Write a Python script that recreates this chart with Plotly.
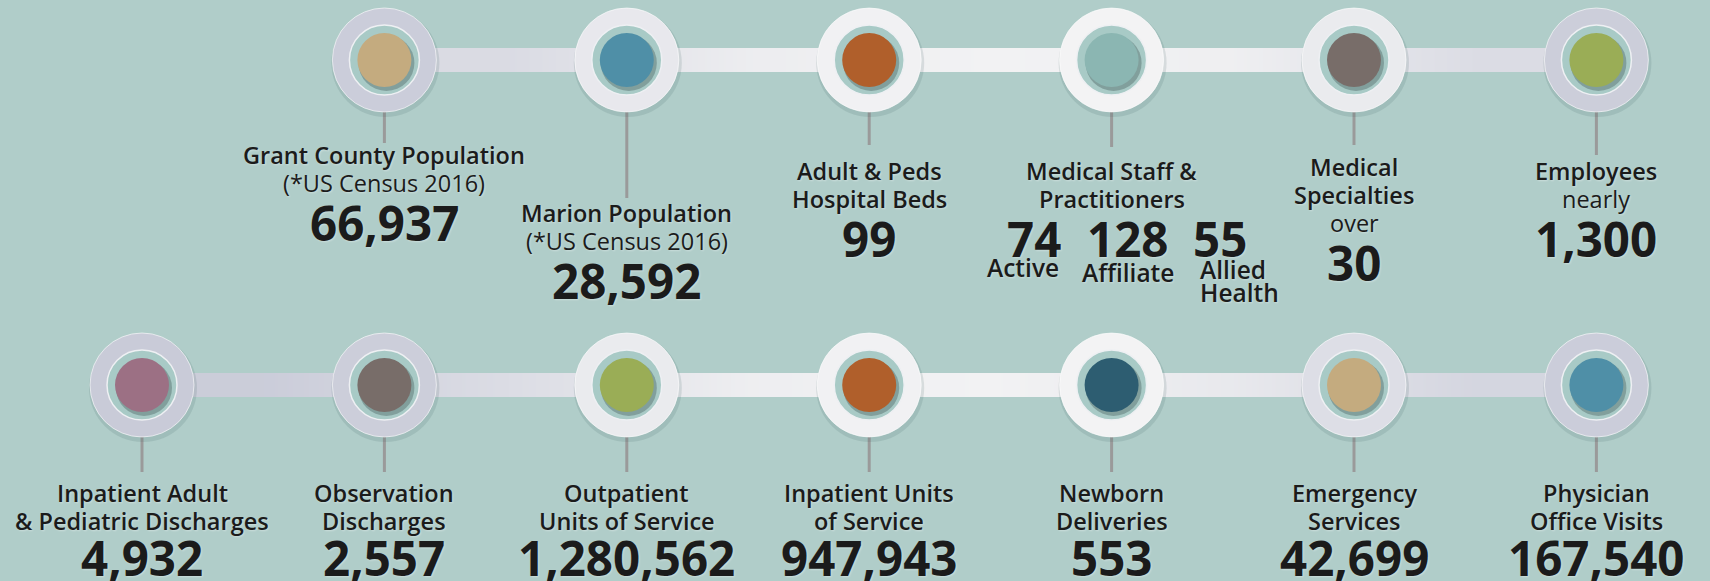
import plotly.graph_objects as go
from plotly.colors import sample_colorscale

# ---------------- data ----------------
top_slots = [1, 2, 3, 4, 5, 6]
top_titles = [["Grant County Population"], ["Marion Population"], ["Adult & Peds", "Hospital Beds"],
              ["Medical Staff &", "Practitioners"], ["Medical", "Specialties"], ["Employees"]]
top_notes = ["(*US Census 2016)", "(*US Census 2016)", "", "", "over", "nearly"]
top_values = ["66,937", "28,592", "99", "", "30", "1,300"]
top_dot_colors = ["#c4ab7f", "#4f8fa7", "#b05f2b", "#8bb6b2", "#786d69", "#9aad56"]

staff_values = ["74", "128", "55"]
staff_labels = ["Active", "Affiliate", "Allied", "Health"]

bottom_slots = [0, 1, 2, 3, 4, 5, 6]
bottom_titles = [["Inpatient Adult", "& Pediatric Discharges"], ["Observation", "Discharges"],
                 ["Outpatient", "Units of Service"], ["Inpatient Units", "of Service"],
                 ["Newborn", "Deliveries"], ["Emergency", "Services"], ["Physician", "Office Visits"]]
bottom_values = ["4,932", "2,557", "1,280,562", "947,943", "553", "42,699", "167,540"]
bottom_dot_colors = ["#9c7084", "#786d69", "#9aad56", "#b05f2b", "#2d5d71", "#c4ab7f", "#4f8fa7"]

# ---------------- style / layout ----------------
W, H = 1710, 581
BG = "#b0cdc9"
SLOT_PX = 242.4
SLOT0_PX = 142
ROW_Y = [60, 385]            # pixel rows of the timelines
RING_D, TEAL_D, DOT_D = 104, 70, 54
BAR_HALF = 12
TEXT = "#1b1b1b"
FONT = "Open Sans"
ring_scale = [[0, "#c7c9d7"], [1, "#f3f3f4"]]
top_shade = [0.1, 0.75, 0.95, 1.0, 0.8, 0.12]
bottom_shade = [0.05, 0.12, 0.8, 0.95, 1.0, 0.5, 0.1]
top_first_line = [155, 213, 171, 171, 167, 171]
bottom_first_line = [493] * 7
top_stem_end = [143, 198, 145, 147, 145, 155]
bottom_stem_end = [472] * 7
top_value_gap, bottom_value_gap = 39, 36

px = 1.0 / SLOT_PX
xr = [-SLOT0_PX * px, (W - SLOT0_PX) * px]

fig = go.Figure()


def add_row(slots, shade, row_y, dot_colors, stem_end):
    gaps = [(shade[i] + shade[i + 1]) / 2 for i in range(len(shade) - 1)]
    fig.add_trace(go.Heatmap(
        x=slots, y=[row_y - BAR_HALF, row_y, row_y + BAR_HALF], z=[gaps, gaps],
        colorscale=ring_scale, zmin=0, zmax=1, zsmooth="best", showscale=False, hoverinfo="skip"))
    sx, sy = [], []
    for s, e in zip(slots, stem_end):
        sx += [s, s, None]
        sy += [row_y + 40, e, None]
    fig.add_trace(go.Scatter(x=sx, y=sy, mode="lines", line=dict(color="#9a9a9a", width=3),
                             hoverinfo="skip"))
    ring_cols = sample_colorscale(ring_scale, shade)
    ys = [row_y] * len(slots)
    fig.add_trace(go.Scatter(x=[s + 1 * px for s in slots], y=[row_y + 3] * len(slots), mode="markers",
                             marker=dict(size=RING_D + 4, color="rgba(70,100,100,0.15)", line=dict(width=0)),
                             hoverinfo="skip"))
    fig.add_trace(go.Scatter(x=slots, y=ys, mode="markers",
                             marker=dict(size=RING_D, color=ring_cols, line=dict(width=1, color="rgba(255,255,255,0.6)")),
                             hoverinfo="skip"))
    fig.add_trace(go.Scatter(x=slots, y=ys, mode="markers",
                             marker=dict(size=TEAL_D, color="#a8cac6", line=dict(width=1.5, color="#eef0f3")),
                             hoverinfo="skip"))
    fig.add_trace(go.Scatter(x=[s + 2 * px for s in slots], y=[row_y + 3] * len(slots), mode="markers",
                             marker=dict(size=DOT_D + 2, color="rgba(40,60,60,0.3)", line=dict(width=0)),
                             hoverinfo="skip"))
    fig.add_trace(go.Scatter(x=slots, y=ys, mode="markers",
                             marker=dict(size=DOT_D, color=dot_colors, line=dict(width=0)),
                             hoverinfo="skip"))


add_row(top_slots, top_shade, ROW_Y[0], top_dot_colors, top_stem_end)
add_row(bottom_slots, bottom_shade, ROW_Y[1], bottom_dot_colors, bottom_stem_end)

STY = {
    "h": dict(size=23.5, weight=620),
    "n": dict(size=23.5, weight=400),
    "v": dict(size=47.5, weight=700),
}
ann = []
SHADOW = "1px 1px 2px rgba(255,255,255,0.35)"


def text(x, y, t, kind, xshift=0, xanchor="center", size=None):
    f = dict(STY[kind])
    if size:
        f["size"] = size
    ann.append(dict(x=x, y=y, text=t, showarrow=False, xanchor=xanchor, yanchor="middle",
                    xshift=xshift, font=dict(family=FONT, color=TEXT, shadow=SHADOW, **f)))


def block(slot, y0, titles, note, value, vgap):
    lines = [(t, "h") for t in titles]
    if note:
        lines.append((note, "n"))
    if value:
        lines.append((value, "v"))
    y = y0
    first = True
    for t, k in lines:
        if not first:
            y += vgap if k == "v" else 28
        text(slot, y, t, k)
        first = False


for i, s in enumerate(top_slots):
    block(s, top_first_line[i], top_titles[i], top_notes[i], top_values[i], top_value_gap)
for i, s in enumerate(bottom_slots):
    block(s, bottom_first_line[i], bottom_titles[i], "", bottom_values[i], bottom_value_gap)

# medical staff breakdown
staff_slot = top_slots[3]
for v, sh in zip(staff_values, [-78, 16, 108]):
    text(staff_slot, 238, v, "v", xshift=sh)
text(staff_slot, 267, staff_labels[0], "h", xshift=-89, size=24.5)
text(staff_slot, 272, staff_labels[1], "h", xshift=16, size=24.5)
text(staff_slot, 269, staff_labels[2], "h", xshift=86, xanchor="left", size=24.5)
text(staff_slot, 292, staff_labels[3], "h", xshift=86, xanchor="left", size=24.5)

fig.update_layout(
    width=W, height=H, margin=dict(l=0, r=0, t=0, b=0),
    paper_bgcolor=BG, plot_bgcolor=BG, showlegend=False,
    xaxis=dict(range=xr, visible=False, fixedrange=True),
    yaxis=dict(range=[H, 0], visible=False, fixedrange=True),
    annotations=ann,
)
fig.write_html("out.html", config={"displayModeBar": False},
               post_script="document.body.style.margin='0';document.body.style.background='%s';" % BG)
